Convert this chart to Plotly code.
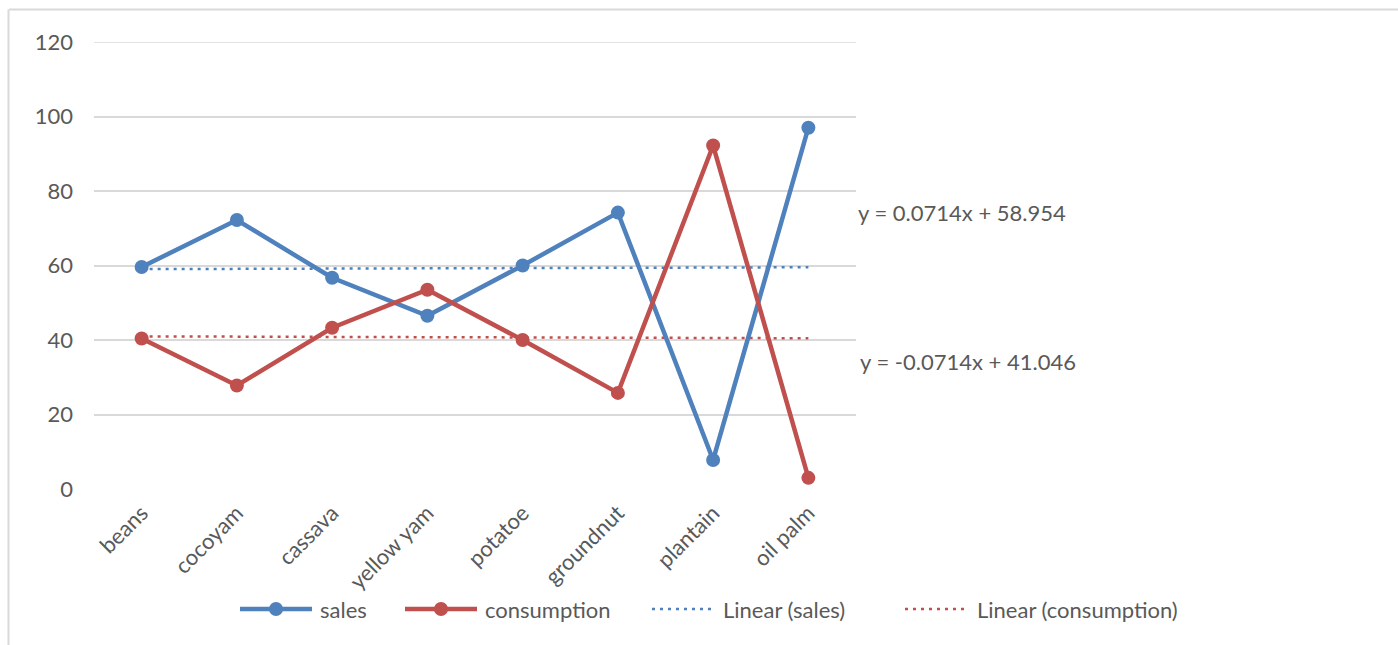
import plotly.graph_objects as go

# Crop shares (%) per crop
crops = ["beans", "cocoyam", "cassava", "yellow yam", "potatoe", "groundnut", "plantain", "oil palm"]
sales = [59.6, 72.2, 56.7, 46.5, 60.0, 74.2, 7.8, 97.0]
consumption = [40.4, 27.8, 43.3, 53.5, 40.0, 25.8, 92.2, 3.0]

# Linear trend coefficients (x = 1..n)
sales_trend = (0.0714, 58.954)
cons_trend = (-0.0714, 41.046)
y_ticks = [0, 20, 40, 60, 80, 100, 120]

BLUE = "#4f81bd"
RED = "#c0504d"
TEXT = "#595959"
GRID = "#d9d9d9"
FONT = "Lato, sans-serif"
FS = 22

W, H = 1398, 645
ML, MR, MT, MB = 94, W - 856, 42, H - 489
PW, PH = W - ML - MR, H - MT - MB


def px(x):
    return (x - ML) / PW


def py(y):
    return (H - MB - y) / PH


xs = list(range(1, len(crops) + 1))
sales_fit = [sales_trend[0] * x + sales_trend[1] for x in xs]
cons_fit = [cons_trend[0] * x + cons_trend[1] for x in xs]

fig = go.Figure()
fig.add_trace(go.Scatter(x=crops, y=sales_fit, mode="lines",
                         line=dict(color=BLUE, width=2.5, dash="3px,5px"), name="Linear (sales)"))
fig.add_trace(go.Scatter(x=crops, y=cons_fit, mode="lines",
                         line=dict(color=RED, width=2.5, dash="3px,5px"), name="Linear (consumption)"))
fig.add_trace(go.Scatter(x=crops, y=sales, mode="lines+markers",
                         line=dict(color=BLUE, width=4.5), marker=dict(size=14, color=BLUE), name="sales"))
fig.add_trace(go.Scatter(x=crops, y=consumption, mode="lines+markers",
                         line=dict(color=RED, width=4.5), marker=dict(size=14, color=RED), name="consumption"))

shapes = []
annotations = []

# outer chart frame (top and left edges)
shapes.append(dict(type="line", xref="paper", yref="paper", x0=px(9), x1=px(W + 5), y0=py(9.5), y1=py(9.5),
                   line=dict(color="#d9d9d9", width=2)))
shapes.append(dict(type="line", xref="paper", yref="paper", x0=px(8.5), x1=px(8.5), y0=py(9.5), y1=py(H + 5),
                   line=dict(color="#d9d9d9", width=2)))

# top gridline at 120
shapes.append(dict(type="line", xref="paper", yref="y", x0=0, x1=1, y0=120, y1=120,
                   line=dict(color=GRID, width=1.5), layer="below"))

# legend
leg_y = py(609)
legend_items = [
    ("sales", BLUE, True, 240, 312, 318),
    ("consumption", RED, True, 405, 477, 483),
    ("Linear (sales)", BLUE, False, 652, 715, 721),
    ("Linear (consumption)", RED, False, 905, 967, 975),
]
for label, color, solid, x0, x1, tx in legend_items:
    if solid:
        shapes.append(dict(type="line", xref="paper", yref="paper", x0=px(x0), x1=px(x1), y0=leg_y, y1=leg_y,
                           line=dict(color=color, width=4.5)))
        shapes.append(dict(type="circle", xref="paper", yref="paper", xsizemode="pixel", ysizemode="pixel",
                           xanchor=px((x0 + x1) / 2), yanchor=leg_y, x0=-7, x1=7, y0=-7, y1=7,
                           fillcolor=color, line=dict(width=0)))
    else:
        shapes.append(dict(type="line", xref="paper", yref="paper", x0=px(x0), x1=px(x1), y0=leg_y, y1=leg_y,
                           line=dict(color=color, width=2.5, dash="3px,5px")))
    annotations.append(dict(text=label, xref="paper", yref="paper", x=px(tx), y=leg_y, xanchor="left",
                            yanchor="middle", showarrow=False, font=dict(size=FS, color=TEXT, family=FONT)))

# trend equations
annotations.append(dict(text="y = 0.0714x + 58.954", xref="paper", yref="paper", x=px(856), y=py(212),
                        xanchor="left", yanchor="middle", showarrow=False,
                        font=dict(size=FS, color=TEXT, family=FONT)))
annotations.append(dict(text="y = -0.0714x + 41.046", xref="paper", yref="paper", x=px(858), y=py(362),
                        xanchor="left", yanchor="middle", showarrow=False,
                        font=dict(size=FS, color=TEXT, family=FONT)))

fig.update_layout(
    width=W, height=H,
    margin=dict(l=ML, r=MR, t=MT, b=MB, pad=0),
    paper_bgcolor="white", plot_bgcolor="white",
    showlegend=False,
    font=dict(family=FONT, size=FS, color=TEXT),
    shapes=shapes, annotations=annotations,
    xaxis=dict(type="category", range=[-0.5, len(crops) - 0.5], showgrid=False, showline=False,
               zeroline=False, ticks="", tickangle=-45, ticklabelstandoff=6,
               tickfont=dict(size=FS, color=TEXT, family=FONT)),
    yaxis=dict(range=[0, 120], tickvals=y_ticks, showgrid=True, gridcolor=GRID, gridwidth=1.5,
               zeroline=False, showline=False, ticks="", ticklabelstandoff=20,
               tickfont=dict(size=FS, color=TEXT, family=FONT)),
)

fig.write_html("out.html")
